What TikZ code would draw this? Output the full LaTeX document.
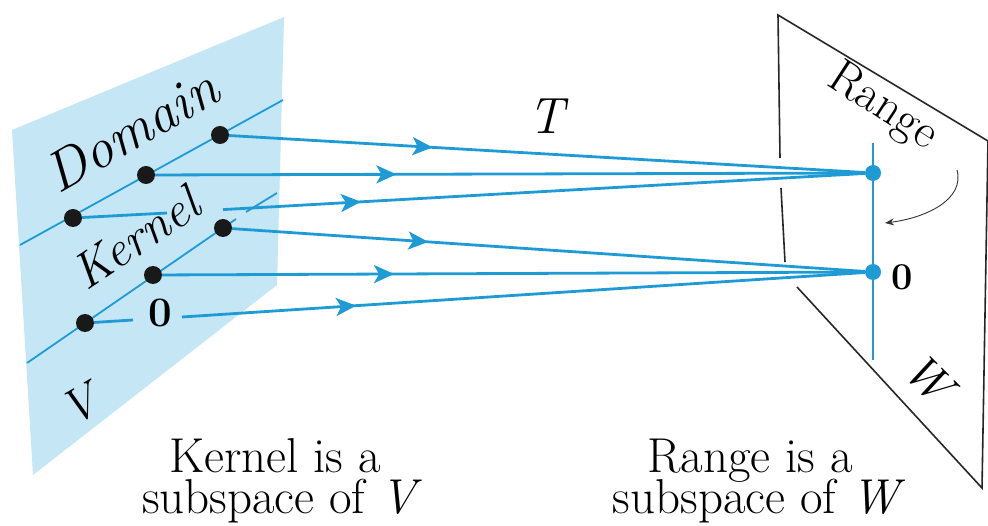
\documentclass[tikz,border=0pt]{standalone}
\usetikzlibrary{arrows.meta,decorations.markings}
\definecolor{lineblue}{RGB}{30,155,212}
\definecolor{planeblue}{RGB}{197,230,244}
\begin{document}
\begin{tikzpicture}[x=1pt,y=-1pt,
  blueline/.style={draw=lineblue, line width=2.8pt},
  thinblue/.style={draw=lineblue, line width=1.8pt},
  midarrow/.style={postaction={decorate,decoration={markings,mark=at position #1 with {\arrow[color=lineblue]{Stealth[length=20pt,width=18pt,inset=5pt]}}}}},
  dot/.style={circle, fill=black!90, inner sep=0pt, minimum size=18pt},
  bdot/.style={circle, fill=lineblue, inner sep=0pt, minimum size=16pt},
  outline/.style={draw=black!85, line width=1.6pt},
  fs/.style={font=\fontsize{#1}{#1}\selectfont},
  fi/.style={font=\fontsize{#1}{#1}\selectfont\itshape},
  fb/.style={font=\fontsize{#1}{#1}\selectfont\bfseries},
]
\useasboundingbox (0,0) rectangle (988,526);

% domain plane V
\fill[planeblue] (12,130) -- (284,17) -- (277,285) -- (33,475) -- cycle;
\draw[thinblue] (20,245) -- (283,100);
\draw[thinblue] (27,363) -- (236,219);
\draw[thinblue] (246,212) -- (277,193);

% range plane W (edges, interrupted where the arrows pass)
\coordinate (wa) at (778,15);
\coordinate (wb) at (988,141);
\coordinate (wc) at (982,488);
\coordinate (wd) at (797,287);
\draw[outline] (780,158) -- (wa) -- (wb) -- (wc) -- (wd);
\draw[outline] (781,188) -- (785,262);

% range line
\draw[thinblue] (873,143) -- (873,360);

% points
\node[dot] (d1) at (220,135) {};
\node[dot] (d2) at (146,175) {};
\node[dot] (d3) at (73,218) {};
\node[dot] (d4) at (223,228) {};
\node[dot] (d5) at (153,275) {};
\node[dot] (d6) at (85,323) {};
\node[bdot] (r1) at (873,173) {};
\node[bdot] (r0) at (873,272) {};

% mapping lines
\coordinate (g3a) at (167,213);
\coordinate (g3b) at (223,209.6);
\coordinate (g6a) at (133,320);
\coordinate (g6b) at (182,317);
\draw[blueline, midarrow=0.32] (d1) -- (r1);
\draw[blueline, midarrow=0.34] (d2) -- (r1);
\draw[blueline] (d3) -- (g3a);
\draw[blueline, midarrow=0.215] (g3b) -- (r1);
\draw[blueline, midarrow=0.31] (d4) -- (r0);
\draw[blueline, midarrow=0.33] (d5) -- (r0);
\draw[blueline] (d6) -- (g6a);
\draw[blueline, midarrow=0.255] (g6b) -- (r0);

% labels
\node[fi=56, rotate=30, anchor=base] (dom) at (141,147) {Domain};
\node[fi=50, rotate=34, anchor=base] (ker) at (145,252) {Kernel};
\node[fb=42] (z1) at (160,313) {0};
\node[fi=48, rotate=30] (vlab) at (80,405) {V};
\node[fi=51] (tlab) at (546,116) {T};
\node[fs=48, rotate=-33, anchor=base] (rng) at (876,117) {Range};
\node[fb=38] (z2) at (902,277) {0};
\node[fi=48, rotate=-45] (wlab) at (928,378) {W};

% curved arrow
\coordinate (ca) at (957,170);
\coordinate (cb) at (885,223);
\draw[black!80, line width=0.9pt, -{Stealth[length=9pt,width=7pt]}] (ca) .. controls (965,200) and (925,218) .. (cb);

% captions
\node[fs=49, anchor=base] (k1) at (275,472) {Kernel is a};
\node[fs=49, anchor=base] (k2) at (282,513) {subspace of \textit{V}};
\node[fs=49, anchor=base] (g1) at (750,472) {Range is a};
\node[fs=49, anchor=base] (g2) at (759,513) {subspace of \textit{W}};
\end{tikzpicture}
\end{document}
